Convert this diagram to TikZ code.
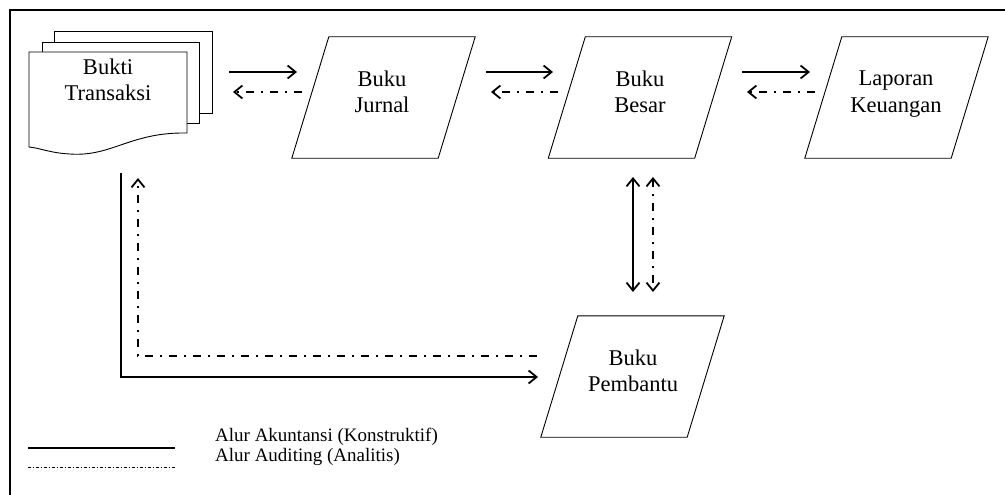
\documentclass[tikz,border=0pt]{standalone}
\usepackage{fontspec}
\setmainfont{Liberation Serif}
\usetikzlibrary{arrows.meta}
\newcommand\drawpara[1]{\draw[pline] ([xshift=-18.5pt]#1.south west) -- ([xshift=-18.5pt]#1.south east) -- ([xshift=18.5pt]#1.north east) -- ([xshift=18.5pt]#1.north west) -- cycle;}
\begin{document}
\begin{tikzpicture}[x=1pt,y=-1pt,
  pline/.style={line width=0.9pt},
  sheet/.style={line width=0.9pt, fill=white, draw=black},
  pshape/.style={draw=none, minimum width=146pt, minimum height=121pt, inner sep=0pt},
  btext/.style={anchor=north, inner sep=0pt, align=center, font=\fontsize{22.5}{26.5}\selectfont},
  ltext/.style={anchor=base west, inner sep=0pt, font=\fontsize{19}{20}\selectfont},
  flow/.style={line width=1.8pt, -{Straight Barb[length=8pt,width=13pt]}},
  flow2/.style={line width=1.8pt, {Straight Barb[length=8pt,width=13pt]}-{Straight Barb[length=8pt,width=13pt]}},
  audit/.style={flow, dash pattern=on 8pt off 7pt on 2pt off 7pt},
  audit2/.style={flow2, dash pattern=on 8pt off 7pt on 2pt off 7pt}]
\useasboundingbox (0,0) rectangle (1005,495);
% frame (cropped)
\draw[line width=2pt] (10,10) rectangle (1040,540);
% Bukti Transaksi stack
\filldraw[sheet] (54,31) rectangle (212,113);
\filldraw[sheet] (42,42) rectangle (199,123);
\filldraw[sheet] (29,52) -- (187,52) -- (187,133) .. controls (130,132) and (112,157) .. (70,154) .. controls (50,153) and (40,148) .. (29,147) -- cycle;
\node[inner sep=0pt, minimum width=158pt, minimum height=95pt] (bukti) at (108,100) {};
\node[btext] (buktitxt) at (108,58.6) {Bukti\\Transaksi};
% parallelograms
\node[pshape] (jurnal) at (383.5,97.5) {};
\node[pshape] (besar) at (640,97.5) {};
\node[pshape] (laporan) at (896.5,97.5) {};
\node[pshape] (pembantu) at (632.5,376.5) {};
\drawpara{jurnal}
\drawpara{besar}
\drawpara{laporan}
\drawpara{pembantu}
\node[btext] (jurnaltxt) at (382,70.6) {Buku\\Jurnal};
\node[btext] (besartxt) at (640,70.6) {Buku\\Besar};
\node[btext] (laportxt) at (896,71) {Laporan\\Keuangan};
\node[btext] (pembtxt) at (633,349.6) {Buku\\Pembantu};
% connector end points
\coordinate (a1s) at (229,72); \coordinate (a1e) at (297,72);
\coordinate (b1s) at (302,92); \coordinate (b1e) at (233,92);
\coordinate (a2s) at (486,72); \coordinate (a2e) at (553,72);
\coordinate (b2s) at (558,92); \coordinate (b2e) at (491,92);
\coordinate (a3s) at (742,72); \coordinate (a3e) at (810,72);
\coordinate (b3s) at (815,92); \coordinate (b3e) at (747,92);
\coordinate (v1s) at (633,177); \coordinate (v1e) at (633,292);
\coordinate (v2s) at (653,177); \coordinate (v2e) at (653,292);
\coordinate (ls) at (121,173); \coordinate (lc) at (121,377); \coordinate (le) at (538,377);
\coordinate (ms) at (537,356); \coordinate (mc) at (138,356); \coordinate (me) at (138,178);
% connectors
\draw[flow] (a1s) -- (a1e);
\draw[audit] (b1s) -- (b1e);
\draw[flow] (a2s) -- (a2e);
\draw[audit] (b2s) -- (b2e);
\draw[flow] (a3s) -- (a3e);
\draw[audit] (b3s) -- (b3e);
\draw[flow2] (v1s) -- (v1e);
\draw[audit2] (v2s) -- (v2e);
\draw[flow] (ls) -- (lc) -- (le);
\draw[audit] (ms) -- (mc) -- (me);
% legend
\coordinate (k1s) at (28,448); \coordinate (k1e) at (175,448);
\coordinate (k2s) at (28,467); \coordinate (k2e) at (175,467);
\draw[line width=1.2pt] (k1s) -- (k1e);
\draw[line width=0.8pt, dash pattern=on 3pt off 2pt on 1pt off 2pt] (k2s) -- (k2e);
\node[ltext] (leg1) at (215,441) {Alur Akuntansi (Konstruktif)};
\node[ltext] (leg2) at (215,461) {Alur Auditing (Analitis)};
\end{tikzpicture}
\end{document}
